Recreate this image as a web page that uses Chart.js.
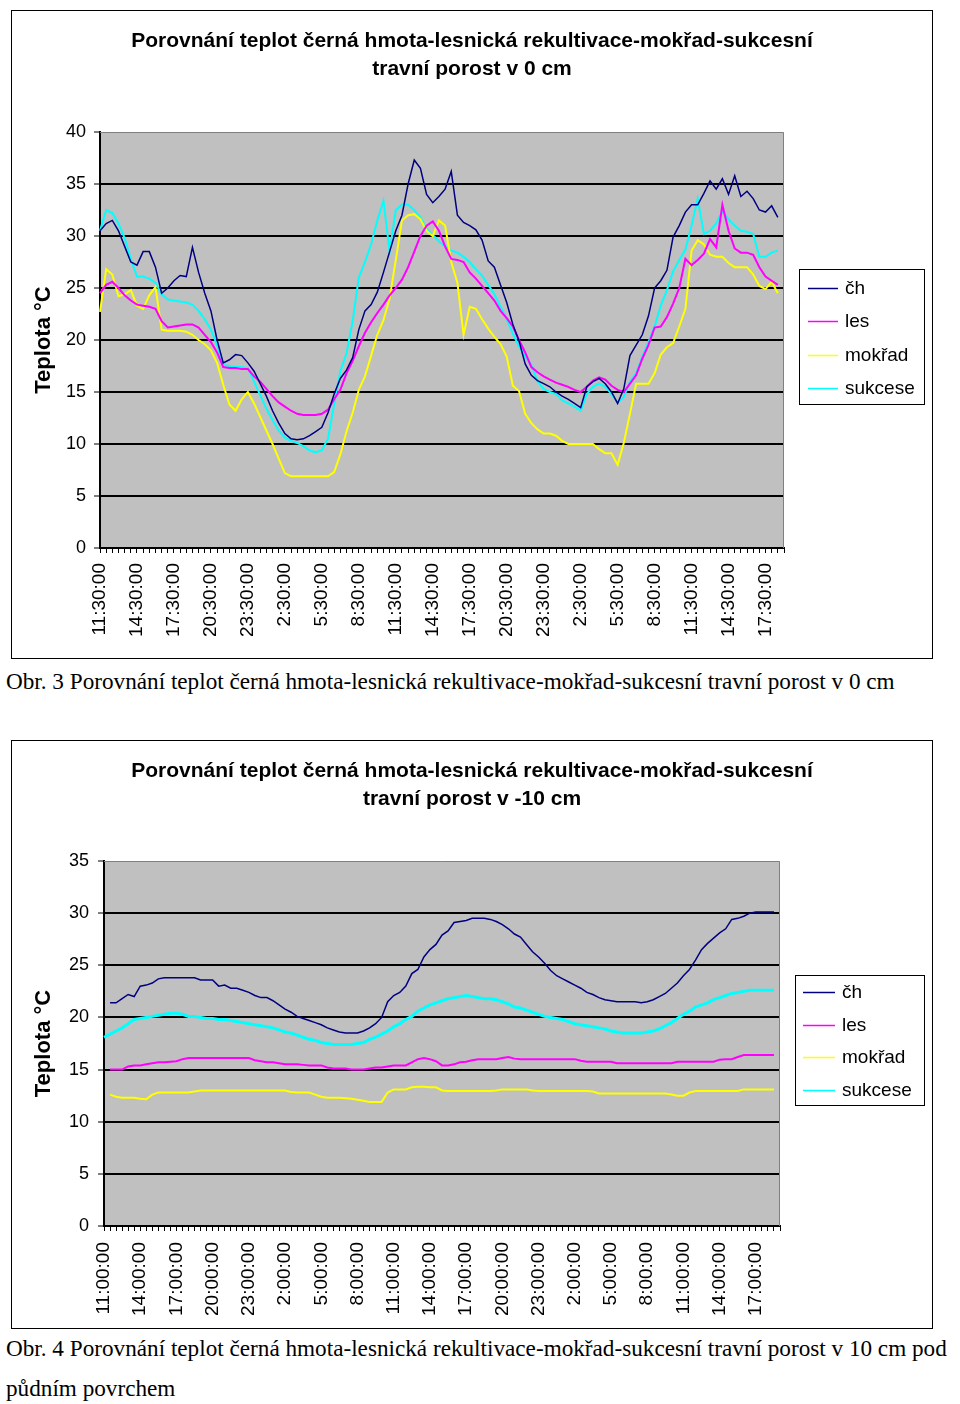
<!DOCTYPE html>
<html>
<head>
<meta charset="utf-8">
<script src="https://cdn.jsdelivr.net/npm/chart.js@4.4.0/dist/chart.umd.min.js"></script>
<style>
body { margin: 0; background: #fff; width: 960px; height: 1404px; position: relative; overflow: hidden; }
.box { position: absolute; left: 11px; width: 920px; border: 1px solid #000; background: #fff; }
#box1 { top: 10px; height: 647px; }
#box2 { top: 740px; height: 587px; }
.cap { position: absolute; left: 6px; font-family: "Liberation Serif", "Times New Roman", serif; font-size: 23.2px; color: #000; white-space: nowrap; }
#cap1 { top: 669px; line-height: 24px; }
#cap2 { top: 1328px; line-height: 40px; }
</style>
</head>
<body>
<div class="box" id="box1"><canvas id="chart1" width="920" height="647"></canvas></div>
<div class="cap" id="cap1">Obr. 3 Porovnání teplot černá hmota-lesnická rekultivace-mokřad-sukcesní travní porost v 0 cm</div>
<div class="box" id="box2"><canvas id="chart2" width="920" height="587"></canvas></div>
<div class="cap" id="cap2">Obr. 4 Porovnání teplot černá hmota-lesnická rekultivace-mokřad-sukcesní travní porost v 10 cm pod<br>půdním povrchem</div>
<script>
// series names and colours
const seriesNames = ['čh', 'les', 'mokřad', 'sukcese'];
const seriesColors = ['#000080', '#ff00ff', '#ffff00', '#00ffff'];

// chart 1 - v 0 cm, half-hour readings from 11:30
const ch0 = [30.5, 31.2, 31.5, 30.5, 29.0, 27.5, 27.2, 28.5, 28.5, 27.0, 24.5, 25.0, 25.7, 26.2, 26.1, 28.9, 26.5, 24.5, 22.8, 20.0,
  17.8, 18.1, 18.6, 18.5, 17.8, 17.0, 15.8, 14.6, 13.2, 12.0, 11.0, 10.5, 10.4, 10.5, 10.8, 11.2, 11.6, 13.0, 14.8, 16.3,
  17.1, 18.3, 21.0, 22.8, 23.4, 24.6, 26.5, 28.5, 30.5, 32.0, 35.0, 37.3, 36.5, 34.0, 33.2, 33.8, 34.5, 36.2, 32.0, 31.3,
  31.0, 30.6, 29.6, 27.6, 27.0, 25.3, 23.6, 21.5, 19.9, 17.7, 16.6, 16.1, 15.8, 15.5, 15.0, 14.6, 14.3, 13.9, 13.5, 15.5,
  16.0, 16.3, 15.8, 15.0, 13.9, 15.3, 18.5, 19.5, 20.5, 22.3, 25.0, 25.7, 26.7, 29.9, 31.0, 32.3, 33.0, 33.0, 34.1, 35.3,
  34.5, 35.5, 34.0, 35.8, 33.8, 34.3, 33.6, 32.5, 32.3, 32.9, 31.8];
const les0 = [24.5, 25.3, 25.6, 25.0, 24.3, 23.8, 23.4, 23.3, 23.2, 23.0, 21.8, 21.2, 21.3, 21.4, 21.5, 21.5, 21.2, 20.5, 19.8, 18.8,
  17.4, 17.3, 17.3, 17.2, 17.2, 16.5, 16.0, 15.3, 14.6, 14.0, 13.6, 13.2, 12.9, 12.8, 12.8, 12.8, 12.9, 13.3, 14.3, 15.2,
  16.8, 18.0, 19.4, 20.7, 21.7, 22.6, 23.4, 24.3, 25.0, 25.8, 27.0, 28.5, 30.0, 31.0, 31.4, 30.5, 29.0, 27.8, 27.7, 27.5,
  26.5, 25.9, 25.2, 24.5, 23.8, 22.8, 22.1, 21.3, 20.0, 18.8, 17.4, 16.9, 16.5, 16.2, 15.9, 15.7, 15.5, 15.2, 15.0, 15.5,
  16.1, 16.4, 16.2, 15.6, 15.2, 15.0, 15.8, 16.6, 18.2, 19.5, 21.2, 21.3, 22.2, 23.5, 25.0, 27.8, 27.2, 27.7, 28.3, 29.7,
  28.9, 33.0, 30.5, 28.8, 28.4, 28.4, 28.2, 27.0, 26.1, 25.7, 25.3];
const mok0 = [22.7, 26.8, 26.3, 24.2, 24.4, 24.8, 23.3, 23.0, 24.3, 25.1, 21.0, 20.9, 20.9, 20.9, 20.8, 20.5, 20.0, 19.6, 19.0, 17.8,
  15.7, 13.8, 13.2, 14.3, 15.0, 13.9, 12.6, 11.3, 10.0, 8.6, 7.2, 6.9, 6.9, 6.9, 6.9, 6.9, 6.9, 6.9, 7.3, 9.0,
  11.2, 13.0, 15.2, 16.5, 18.5, 20.5, 21.9, 24.0, 27.7, 31.5, 32.0, 32.1, 31.6, 30.5, 30.0, 31.5, 31.0, 27.5, 25.5, 20.5,
  23.2, 23.0, 22.0, 21.1, 20.3, 19.6, 18.4, 15.6, 15.1, 12.9, 12.0, 11.4, 11.0, 11.0, 10.8, 10.3, 10.0, 10.0, 10.0, 10.0,
  10.0, 9.5, 9.1, 9.1, 8.0, 10.1, 12.9, 15.8, 15.8, 15.8, 16.8, 18.6, 19.3, 19.7, 21.3, 23.0, 28.6, 29.6, 29.2, 28.2,
  28.0, 28.0, 27.4, 27.0, 27.0, 27.0, 26.3, 25.2, 24.9, 25.6, 24.5];
const suk0 = [30.5, 32.5, 32.2, 31.2, 29.8, 27.8, 26.1, 26.1, 25.9, 25.5, 24.4, 23.9, 23.8, 23.7, 23.6, 23.4, 22.8, 22.0, 21.0, 19.5,
  17.6, 17.5, 17.4, 17.4, 17.3, 16.0, 14.7, 13.4, 12.3, 11.3, 10.6, 10.3, 10.1, 9.8, 9.4, 9.2, 9.4, 10.5, 13.8, 17.0,
  18.7, 21.8, 26.0, 27.5, 29.2, 31.5, 33.4, 28.5, 32.5, 33.0, 33.0, 32.5, 31.8, 30.7, 30.1, 29.5, 29.0, 28.6, 28.4, 28.0,
  27.5, 26.8, 26.2, 25.3, 24.4, 23.2, 22.0, 20.6, 19.4, 18.4, 17.6, 16.0, 15.3, 15.0, 14.8, 14.2, 13.9, 13.6, 13.2, 14.8,
  15.5, 15.8, 15.5, 14.8, 14.0, 14.5, 16.0, 16.8, 18.4, 19.8, 21.3, 23.3, 24.8, 26.6, 27.7, 28.7, 31.0, 33.6, 30.2, 30.5,
  31.2, 32.4, 31.6, 31.0, 30.5, 30.4, 30.2, 28.0, 28.0, 28.4, 28.6];

// chart 2 - v -10 cm, half-hour readings from 11:00
const ch10 = [null, 21.4, 21.4, 21.8, 22.2, 22.0, 23.0, 23.1, 23.3, 23.7, 23.8, 23.8, 23.8, 23.8, 23.8, 23.8, 23.6, 23.6, 23.6, 23.0,
  23.1, 22.8, 22.8, 22.6, 22.4, 22.1, 21.9, 21.9, 21.6, 21.2, 20.8, 20.5, 20.1, 19.9, 19.7, 19.5, 19.3, 19.0, 18.8, 18.6,
  18.5, 18.5, 18.5, 18.7, 19.0, 19.4, 20.0, 21.5, 22.1, 22.4, 23.0, 24.2, 24.6, 25.8, 26.5, 27.0, 27.9, 28.3, 29.1, 29.2,
  29.3, 29.5, 29.5, 29.5, 29.4, 29.2, 28.9, 28.5, 28.0, 27.7, 27.0, 26.3, 25.8, 25.2, 24.5, 24.0, 23.7, 23.4, 23.1, 22.8,
  22.4, 22.2, 21.9, 21.7, 21.6, 21.5, 21.5, 21.5, 21.5, 21.4, 21.5, 21.7, 22.0, 22.3, 22.8, 23.3, 24.0, 24.6, 25.5, 26.5,
  27.1, 27.6, 28.1, 28.5, 29.4, 29.5, 29.7, 30.0, 30.1, 30.1, 30.1, 30.1];
const les10 = [null, 15.0, 15.0, 15.0, 15.3, 15.4, 15.4, 15.5, 15.6, 15.7, 15.7, 15.75, 15.8, 16.0, 16.1, 16.1, 16.1, 16.1, 16.1, 16.1,
  16.1, 16.1, 16.1, 16.1, 16.1, 15.9, 15.8, 15.7, 15.7, 15.6, 15.5, 15.5, 15.5, 15.45, 15.4, 15.4, 15.4, 15.2, 15.1, 15.1,
  15.1, 15.0, 15.0, 15.0, 15.1, 15.2, 15.2, 15.3, 15.4, 15.4, 15.4, 15.7, 16.0, 16.1, 16.0, 15.8, 15.4, 15.4, 15.5, 15.7,
  15.75, 15.9, 16.0, 16.0, 16.0, 16.0, 16.1, 16.2, 16.05, 16.0, 16.0, 16.0, 16.0, 16.0, 16.0, 16.0, 16.0, 16.0, 16.0, 15.85,
  15.75, 15.75, 15.75, 15.75, 15.75, 15.6, 15.6, 15.6, 15.6, 15.6, 15.6, 15.6, 15.6, 15.6, 15.6, 15.75, 15.75, 15.75, 15.75, 15.75,
  15.75, 15.75, 15.95, 16.0, 16.0, 16.2, 16.4, 16.4, 16.4, 16.4, 16.4, 16.4];
const mok10 = [null, 12.6, 12.4, 12.3, 12.3, 12.3, 12.2, 12.15, 12.6, 12.8, 12.8, 12.8, 12.8, 12.8, 12.8, 12.9, 13.0, 13.0, 13.0, 13.0,
  13.0, 13.0, 13.0, 13.0, 13.0, 13.0, 13.0, 13.0, 13.0, 13.0, 13.0, 12.85, 12.8, 12.8, 12.8, 12.6, 12.4, 12.3, 12.3, 12.3,
  12.25, 12.2, 12.1, 12.0, 11.9, 11.9, 11.9, 12.8, 13.1, 13.1, 13.1, 13.3, 13.35, 13.35, 13.3, 13.3, 13.0, 12.95, 12.95, 12.95,
  12.95, 12.95, 12.95, 12.95, 12.95, 13.0, 13.1, 13.1, 13.1, 13.1, 13.1, 13.0, 12.95, 12.95, 12.95, 12.95, 12.95, 12.95, 12.95, 12.95,
  12.95, 12.9, 12.7, 12.7, 12.7, 12.7, 12.7, 12.7, 12.7, 12.7, 12.7, 12.7, 12.7, 12.7, 12.6, 12.5, 12.5, 12.8, 12.95, 12.95,
  12.95, 12.95, 12.95, 12.95, 12.95, 12.95, 13.1, 13.1, 13.1, 13.1, 13.1, 13.1];
const suk10 = [18.1, 18.4, 18.7, 19.0, 19.4, 19.8, 19.9, 20.0, 20.1, 20.2, 20.3, 20.4, 20.4, 20.3, 20.1, 20.1, 20.0, 19.9, 19.9, 19.8,
  19.8, 19.7, 19.6, 19.5, 19.4, 19.3, 19.2, 19.1, 19.0, 18.8, 18.6, 18.5, 18.3, 18.1, 17.9, 17.8, 17.6, 17.5, 17.4, 17.4,
  17.4, 17.4, 17.5, 17.6, 17.9, 18.1, 18.4, 18.7, 19.1, 19.4, 19.8, 20.1, 20.6, 20.9, 21.2, 21.4, 21.6, 21.8, 21.9, 22.0,
  22.1, 22.0, 21.9, 21.8, 21.8, 21.7, 21.5, 21.3, 21.0, 20.9, 20.7, 20.5, 20.3, 20.1, 20.0, 19.9, 19.8, 19.6, 19.4, 19.3,
  19.2, 19.1, 19.0, 18.9, 18.7, 18.6, 18.5, 18.5, 18.5, 18.5, 18.6, 18.7, 18.9, 19.2, 19.5, 19.9, 20.3, 20.6, 21.0, 21.2,
  21.4, 21.7, 21.9, 22.1, 22.3, 22.4, 22.5, 22.6, 22.6, 22.6, 22.6, 22.6];

// category axis: one category per half hour
function halfHourLabels(startH, startM, count) {
  const out = [];
  for (let k = 0; k < count; k++) {
    const t = startH * 60 + startM + k * 30;
    const h = Math.floor(t / 60) % 24;
    const m = t % 60;
    out.push(h + ':' + String(m).padStart(2, '0') + ':00');
  }
  return out;
}
const labels0 = halfHourLabels(11, 30, 112);
const labels10 = halfHourLabels(11, 0, 113);
const labelEvery = 6;

const titleLine1 = 'Porovnání teplot černá hmota-lesnická rekultivace-mokřad-sukcesní';

// grey plot area with a grey frame on top and right
const plotFrame = {
  id: 'plotFrame',
  beforeDraw(chart) {
    const { ctx, chartArea: a } = chart;
    ctx.save();
    ctx.fillStyle = '#c0c0c0';
    ctx.fillRect(a.left, a.top, a.right - a.left, a.bottom - a.top);
    ctx.restore();
  },
  afterDraw(chart) {
    const { ctx, chartArea: a } = chart;
    ctx.save();
    ctx.strokeStyle = '#808080';
    ctx.lineWidth = 1;
    ctx.beginPath();
    ctx.moveTo(a.left, a.top + 0.5);
    ctx.lineTo(a.right - 0.5, a.top + 0.5);
    ctx.lineTo(a.right - 0.5, a.bottom);
    ctx.stroke();
    ctx.restore();
  }
};

// boxed legend to the right of the plot
const boxLegend = {
  id: 'boxLegend',
  afterDraw(chart, args, o) {
    const { ctx, chartArea: a } = chart;
    const left = Math.round(a.right + o.gap);
    const top = Math.round((a.top + a.bottom) / 2 + o.shiftY - o.height / 2);
    ctx.save();
    ctx.fillStyle = '#fff';
    ctx.fillRect(left, top, o.width, o.height);
    ctx.strokeStyle = '#000';
    ctx.lineWidth = 1;
    ctx.strokeRect(left + 0.5, top + 0.5, o.width, o.height);
    ctx.font = o.font;
    ctx.textBaseline = 'middle';
    chart.data.datasets.forEach((ds, k) => {
      const y = Math.round(top + o.firstRow + k * o.rowH) + 0.5;
      ctx.strokeStyle = ds.borderColor;
      ctx.lineWidth = 1.5;
      ctx.beginPath();
      ctx.moveTo(left + o.lineX0, y);
      ctx.lineTo(left + o.lineX1, y);
      ctx.stroke();
      ctx.fillStyle = '#000';
      ctx.fillText(ds.label, left + o.textX, y);
    });
    ctx.restore();
  }
};

function makeChart(id, labels, series, widths, s) {
  return new Chart(document.getElementById(id), {
    type: 'line',
    data: {
      labels: labels,
      datasets: series.map((vals, k) => ({
        label: seriesNames[k],
        data: vals,
        borderColor: seriesColors[k],
        backgroundColor: seriesColors[k],
        borderWidth: widths[k],
        pointRadius: 0,
        tension: 0,
        fill: false
      }))
    },
    options: {
      responsive: false,
      animation: false,
      events: [],
      layout: { padding: 0 },
      plugins: {
        legend: { display: false },
        tooltip: { enabled: false },
        title: {
          display: true,
          text: [titleLine1, s.title2],
          color: '#000',
          font: { family: 'Liberation Sans, Arial, sans-serif', weight: 'bold', size: 21, lineHeight: 28 / 21 },
          padding: { top: 16, bottom: s.titleGap }
        },
        boxLegend: s.legend
      },
      scales: {
        x: {
          type: 'category',
          offset: false,
          grid: { display: true, drawOnChartArea: false, drawTicks: true, tickLength: 5, color: '#000', lineWidth: 1 },
          border: { display: true, color: '#000', width: 2 },
          ticks: {
            autoSkip: false,
            minRotation: 90,
            maxRotation: 90,
            padding: s.xPad,
            color: '#000',
            font: { family: 'Liberation Sans, Arial, sans-serif', size: 19 },
            callback: function (v, i) { return i % labelEvery === 0 ? this.getLabelForValue(v) : ''; }
          },
          afterFit: sc => { sc.height = s.xAxisH; }
        },
        y: {
          min: 0,
          max: s.yMax,
          grid: {
            color: c => (c.tick && c.tick.value === s.yMax) ? 'rgba(0,0,0,0)' : '#000',
            lineWidth: 2,
            tickLength: 6,
            tickColor: '#000',
            tickWidth: 1
          },
          border: { display: true, color: '#000', width: 2 },
          ticks: {
            stepSize: 5,
            padding: s.yPad,
            color: '#000',
            font: { family: 'Liberation Sans, Arial, sans-serif', size: 18 }
          },
          title: {
            display: true,
            text: 'Teplota °C',
            color: '#000',
            font: { family: 'Liberation Sans, Arial, sans-serif', weight: 'bold', size: 22 },
            padding: { top: 19, bottom: 0 }
          },
          afterFit: sc => { sc.width = s.yAxisW; }
        },
        pad: {
          type: 'linear',
          position: 'right',
          display: true,
          grid: { display: false },
          border: { display: false },
          ticks: { display: false },
          afterFit: sc => { sc.width = s.rightW; }
        }
      }
    },
    plugins: [plotFrame, boxLegend]
  });
}

makeChart('chart1', labels0, [ch0, les0, mok0, suk0], [1.5, 2, 2, 2], {
  title2: 'travní porost v 0 cm',
  titleGap: 49, yMax: 40, xAxisH: 110, yAxisW: 88, rightW: 148, xPad: 10, yPad: 8,
  legend: { gap: 15, shiftY: -3.5, width: 125, height: 135, firstRow: 19, rowH: 33.3,
            lineX0: 9, lineX1: 39, textX: 46, font: '19px "Liberation Sans", Arial, sans-serif' }
});

makeChart('chart2', labels10, [ch10, les10, mok10, suk10], [1.5, 2, 2, 3], {
  title2: 'travní porost v -10 cm',
  titleGap: 48, yMax: 35, xAxisH: 102, yAxisW: 92, rightW: 152, xPad: 11, yPad: 9,
  legend: { gap: 15, shiftY: -3.5, width: 129, height: 130, firstRow: 17, rowH: 32.7,
            lineX0: 8, lineX1: 40, textX: 47, font: '19px "Liberation Sans", Arial, sans-serif' }
});
</script>
</body>
</html>
